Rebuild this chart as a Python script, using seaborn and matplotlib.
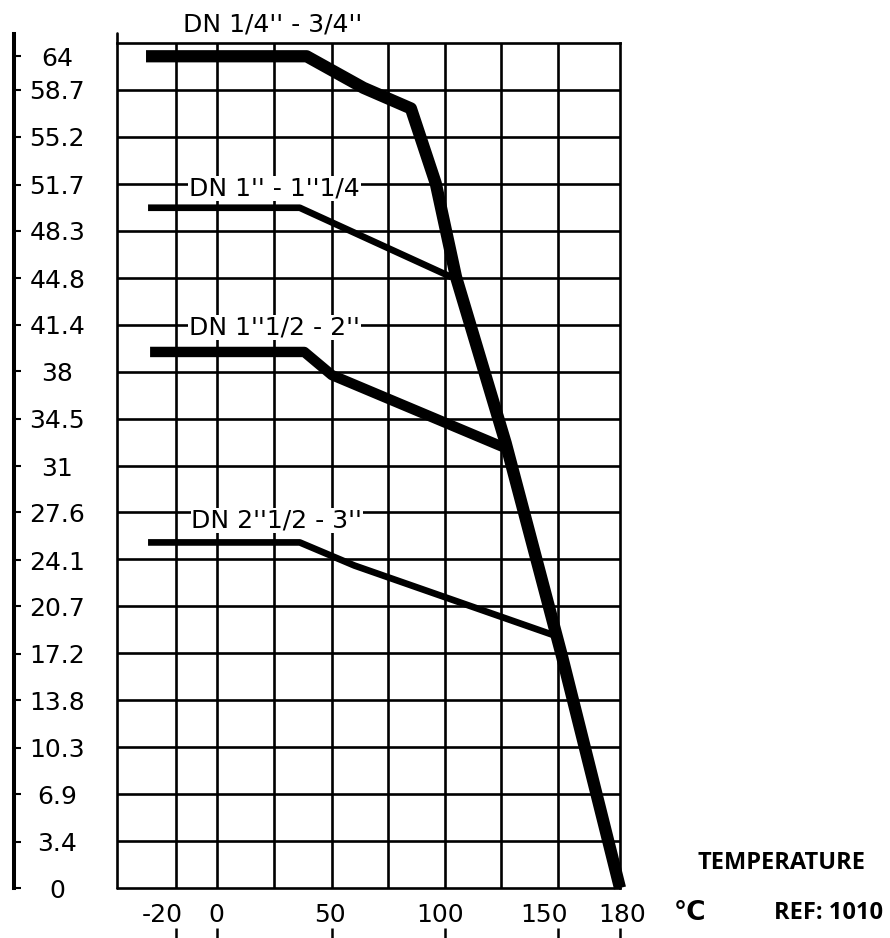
import numpy as np
import matplotlib
matplotlib.use("Agg")
import matplotlib.pyplot as plt
import matplotlib.transforms as mtransforms
import seaborn as sns

# ---- data (temperature in degC, pressure in bar) ----
SERIES_NAMES = ["DN 1/4'' - 3/4''", "DN 1'' - 1''1/4", "DN 1''1/2 - 2''", "DN 2''1/2 - 3''"]

DN1_T = [-35, 39, 64, 85, 96, 105, 127, 152, 180]
DN1_P = [64, 64, 59, 57.3, 51.8, 44.9, 32.7, 17.1, 0]

DN2_T = [-34, 36, 103]
DN2_P = [50, 50, 44.9]

DN3_T = [-33, 38, 50, 126]
DN3_P = [39.4, 39.4, 37.7, 32.4]

DN4_T = [-34, 36, 60, 148]
DN4_P = [25.4, 25.4, 23.7, 18.6]

X_TICKS = [-20, 0, 50, 100, 150, 180]
X_TICK_LABELS = ["-20", "0", "50", "100", "150", "180"]
X_GRID = [-20, 0, 25, 50, 75, 100, 125, 150]

Y_TICKS = [0, 3.4, 6.9, 10.3, 13.8, 17.2, 20.7, 24.1, 27.6, 31, 34.5,
           38, 41.4, 44.8, 48.3, 51.7, 55.2, 58.7, 64]
Y_TICK_LABELS = ["0", "3.4", "6.9", "10.3", "13.8", "17.2", "20.7", "24.1", "27.6", "31", "34.5",
                 "38", "41.4", "44.8", "48.3", "51.7", "55.2", "58.7", "64"]
Y_GRID = [3.45 * k for k in range(1, 18)]

# ---- the chart's own (uneven) scales ----
XT = [-60, -20, 0, 50, 100, 150, 180, 200]
XU = [95, 177, 218, 334, 448, 562, 625, 667]
YP = [-20, 0, 58.65, 64, 90]
YG = [-20 / 3.45, 0, 17, 17.72, 17.72 + 26 * 0.72 / 5.35]

def fx(t):     return np.interp(t, XT, XU)
def fx_inv(u): return np.interp(u, XU, XT)
def fy(p):     return np.interp(p, YP, YG)
def fy_inv(g): return np.interp(g, YG, YP)

sns.set_theme(style="white")
plt.rcParams["font.family"] = ["DejaVu Sans"]

W, H = 890, 938
fig = plt.figure(figsize=(W / 100, H / 100), dpi=100)
ax = fig.add_axes([117 / W, 1 - 888 / H, (620 - 117) / W, (888 - 43) / H])
ax.set_xscale("function", functions=(fx, fx_inv))
ax.set_yscale("function", functions=(fy, fy_inv))

GRID_LW = 1.9
for t in X_GRID:
    ax.axvline(t, color="black", lw=GRID_LW, zorder=1)
for p in Y_GRID:
    ax.axhline(p, color="black", lw=GRID_LW, zorder=1)

widths = [8.8, 4.8, 7.5, 4.8]
for (tx, py), lw in zip([(DN1_T, DN1_P), (DN2_T, DN2_P), (DN3_T, DN3_P), (DN4_T, DN4_P)], widths):
    sns.lineplot(x=tx, y=py, ax=ax, color="black", linewidth=lw, sort=False,
                 estimator=None, clip_on=False, zorder=3,
                 solid_capstyle="butt", solid_joinstyle="round")

XMIN, XMAX, YMAX = -49.3, 177.6, 66.1
ax.set_xlim(XMIN, XMAX)
ax.set_ylim(0, YMAX)

# frame: left and bottom borders (the real spines are moved outward)
ax.axhline(0, color="black", lw=GRID_LW, clip_on=False, zorder=2)
ax.axvline(XMIN, ymax=1.012, color="black", lw=GRID_LW, clip_on=False, zorder=2)
for s in ["top", "right"]:
    ax.spines[s].set_color("black")
    ax.spines[s].set_linewidth(GRID_LW)

ax.spines["left"].set_position(("outward", 74))
ax.spines["left"].set_color("black")
ax.spines["left"].set_linewidth(2.9)
ax.spines["left"].set_bounds(0, 67.6)
ax.spines["bottom"].set_position(("outward", 28.8))
ax.spines["bottom"].set_color("none")

ax.minorticks_off()
ax.set_xticks(X_TICKS, X_TICK_LABELS)
ax.set_yticks(Y_TICKS, Y_TICK_LABELS)
ax.tick_params(axis="x", direction="out", length=7.5, width=1.8, color="black",
               pad=-25.5, labelsize=18, labelcolor="black", bottom=True)
ax.tick_params(axis="y", direction="in", length=5, width=1.5, color="black",
               pad=-31, labelsize=18, labelcolor="black", left=True)
for lbl in ax.get_yticklabels():
    lbl.set_ha("center")

# tick labels sit a little left of their marks in the original
shift_px = [-14, -1, -2, -5, -14, 2]
for lbl, dx in zip(ax.get_xticklabels(), shift_px):
    lbl.set_transform(lbl.get_transform() + mtransforms.ScaledTranslation(dx / 100, 0, fig.dpi_scale_trans))

ax.set_xlabel("")
ax.set_ylabel("")

# series labels
label_pos = [(24, 69.0), (25, 51.4), (25, 41.2), (26, 27.0)]
for name, (lx, ly) in zip(SERIES_NAMES, label_pos):
    ax.text(lx, ly, name, ha="center", va="center", fontsize=18, color="black", zorder=5,
            clip_on=False, bbox=dict(facecolor="white", edgecolor="none", pad=0.5))

fig.text(690 / W, 1 - 913 / H, "°C", ha="center", va="center", fontsize=19,
         fontweight="bold", color="black")
fig.text(782 / W, 1 - 863 / H, "TEMPERATURE", ha="center", va="center", fontsize=17,
         fontweight="bold", family="Open Sans", color="black")
fig.text(828 / W, 1 - 913 / H, "REF: 1010", ha="center", va="center", fontsize=17,
         fontweight="bold", family="Open Sans", color="black")

fig.savefig("out.png", dpi=100, facecolor="white")
